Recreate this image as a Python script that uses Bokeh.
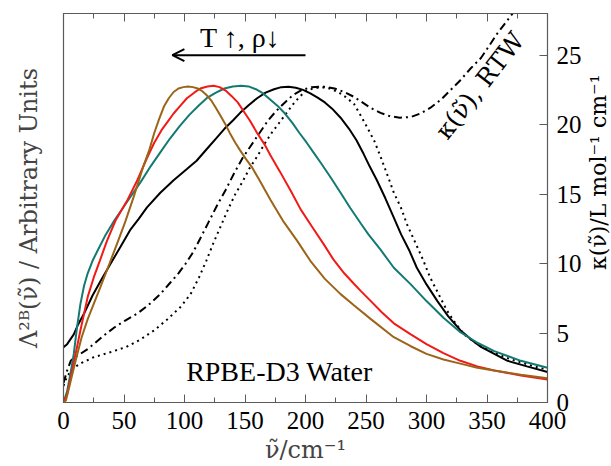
import math
from bokeh.plotting import figure
from bokeh.layouts import row
from bokeh.models import (LinearAxis, FixedTicker, SingleIntervalTicker, Arrow,
                          OpenHead, Range1d)
from bokeh.core.properties import value
from bokeh.embed import file_html
from bokeh.resources import INLINE

# ---------------- data ----------------
brown_x = [0, 2, 5, 10, 15, 20, 25, 30, 38, 45, 51, 58, 66, 71, 75, 79, 83, 87, 91, 95,
           99, 103, 107, 111, 114, 118, 122, 126, 130, 134, 138, 142, 146, 151, 156,
           162, 171, 182, 193, 204, 216, 229, 240, 254, 273, 287, 300, 314, 328, 342,
           356, 378, 400]
brown_y = [0, 0.15, 1.2, 3.0, 4.7, 6.0, 7.1, 8.2, 10.0, 11.6, 13.0, 14.8, 17.0, 18.2,
           19.4, 20.4, 21.3, 21.9, 22.35, 22.6, 22.7, 22.75, 22.7, 22.6, 22.45, 22.15,
           21.75, 21.2, 20.6, 20.0, 19.3, 18.7, 18.15, 17.5, 16.9, 16.0, 14.6, 13.0,
           11.65, 10.2, 8.9, 7.8, 7.0, 6.0, 4.7, 4.05, 3.5, 3.1, 2.8, 2.5, 2.3, 2.0, 1.75]

red_x = [0, 3, 6, 10, 14, 20, 25, 30, 36, 43, 53, 61, 69, 75, 81, 86, 91, 97, 102, 108,
         113, 119, 124, 129, 134, 139, 144, 149, 154, 160, 166, 171, 179, 188, 196, 205,
         215, 223, 232, 240, 246, 254, 263, 273, 287, 300, 314, 328, 342, 356, 378, 400]
red_y = [0, 0.6, 1.8, 3.5, 5.2, 7.6, 9.0, 10.2, 11.65, 13.1, 14.6, 16.0, 17.6, 18.7,
         19.6, 20.2, 20.8, 21.4, 21.9, 22.3, 22.6, 22.75, 22.8, 22.7, 22.45, 22.05,
         21.6, 20.95, 20.3, 19.4, 18.6, 17.8, 16.6, 15.2, 13.9, 12.7, 11.4, 10.3, 9.3,
         8.55, 8.0, 7.3, 6.5, 5.7, 4.9, 4.2, 3.55, 3.0, 2.6, 2.3, 1.95, 1.65]

teal_x = [0, 3, 6, 8.5, 11, 14, 17, 20, 24, 28, 35, 42, 53, 64, 72, 80, 88, 96, 104,
          112, 119, 126, 133, 140, 147, 153, 159, 165, 171, 177, 183, 189, 195, 201,
          207, 213, 220, 229, 237, 246, 252, 262, 273, 287, 300, 314, 328, 342, 356,
          378, 400]
teal_y = [0, 0.8, 2.2, 3.5, 5.3, 7.1, 8.4, 9.3, 10.2, 10.9, 12.1, 13.1, 14.5, 15.9,
          17.0, 18.0, 19.0, 19.9, 20.7, 21.4, 21.95, 22.3, 22.6, 22.75, 22.8, 22.75,
          22.55, 22.25, 21.8, 21.35, 20.8, 20.15, 19.4, 18.7, 17.95, 17.2, 16.3, 15.1,
          14.0, 12.85, 12.1, 11.0, 9.7, 8.5, 7.3, 6.1, 5.06, 4.3, 3.7, 3.0, 2.5]

black_x = [0, 3, 8.5, 12, 17, 24, 31, 39, 47, 55, 62, 69, 80, 91, 102, 110, 119, 126,
           133, 140, 146, 153, 160, 167, 174, 180, 186, 192, 198, 204, 210, 216, 222,
           229, 236, 242, 248, 253, 259, 266, 272, 279, 286, 292, 300, 309, 318, 328,
           336, 345, 356, 367, 383, 400]
black_y = [3.98, 4.2, 4.9, 5.6, 6.4, 7.7, 8.8, 10.0, 11.2, 12.4, 13.2, 14.05, 15.1,
           16.0, 16.8, 17.4, 18.3, 19.0, 19.7, 20.3, 20.85, 21.4, 21.9, 22.3, 22.55,
           22.7, 22.72, 22.65, 22.5, 22.25, 21.95, 21.6, 21.15, 20.5, 19.7, 18.9, 17.9,
           17.0, 16.0, 14.7, 13.5, 12.1, 10.9, 9.7, 8.5, 7.3, 6.2, 5.2, 4.6, 4.0, 3.5,
           3.0, 2.6, 2.2]

dotted_x = [0, 3, 8.5, 15, 25, 38, 52, 63, 75, 86, 97, 105, 112, 118, 124, 130, 136,
            142, 148, 154, 160, 166, 172, 178, 184, 190, 195, 200, 206, 213, 220, 227,
            233, 240, 246, 251, 257, 262, 268, 273, 279, 284, 290, 297, 303, 310, 317,
            324, 331, 342, 355, 370, 385, 400]
dotted_y = [1.2, 1.9, 2.5, 2.85, 3.26, 3.6, 4.0, 4.5, 5.2, 6.0, 6.9, 7.8, 9.0, 10.2,
            11.5, 12.7, 13.9, 15.0, 15.9, 16.9, 17.7, 18.6, 19.4, 20.1, 20.8, 21.5,
            22.0, 22.4, 22.6, 22.7, 22.6, 22.35, 22.0, 21.5, 20.6, 19.8, 18.8, 17.7,
            16.3, 15.1, 14.0, 12.8, 11.65, 10.3, 9.0, 7.8, 6.6, 5.7, 4.9, 4.2, 3.6, 3.1,
            2.7, 2.35]

kappa_x = [0, 3, 6, 10, 14, 20, 25, 33, 42, 51, 61, 70, 80, 88, 95, 101, 107, 113, 120,
           127, 134, 141, 148, 155, 162, 169, 176, 183, 190, 197, 205, 214, 224, 232,
           240, 247, 254, 262, 270, 278, 287, 295, 303, 312, 320, 328, 336, 345, 352,
           358, 365, 372]
kappa_y = [1.4, 2.3, 3.0, 3.3, 3.5, 3.85, 4.2, 4.8, 5.4, 5.9, 6.4, 7.0, 7.8, 8.6, 9.3,
           10.0, 10.8, 11.8, 13.0, 14.2, 15.3, 16.5, 17.6, 18.5, 19.4, 20.3, 21.0, 21.6,
           22.15, 22.5, 22.7, 22.75, 22.6, 22.35, 22.0, 21.6, 21.2, 20.85, 20.6, 20.5,
           20.55, 20.8, 21.2, 21.8, 22.5, 23.2, 24.0, 24.8, 25.7, 26.5, 27.3, 28.1]

y_right_ticks = [0, 5, 10, 15, 20, 25]

x_label = "ν̃/cm⁻¹"
y_left_label = "Λ²ᴮ(ν̃) / Arbitrary Units"
y_right_label = ["κ(ν̃)/L mol⁻¹ cm⁻¹"]

trend_text = ["T ↑, ρ↓"]
trend_text_x = [146]
trend_text_y = [26.25]
arrow_x_from, arrow_x_to, arrow_y = 200, 90, 25.0

kappa_text = ["κ(ν̃), RTW"]
kappa_text_x = [344]
kappa_text_y = [22.8]

system_text = ["RPBE-D3 Water"]
system_text_x = [178.5]
system_text_y = [2.23]

# ---------------- figure ----------------
FONT = "Liberation Serif, DejaVu Serif"
NUFONT = "DejaVu Serif"
SPINE = "#5a5a5a"

p = figure(width=584, height=466, x_range=Range1d(0, 400), y_range=Range1d(0, 28),
           output_backend="svg", toolbar_location=None,
           min_border_left=63, min_border_top=13, min_border_right=37,
           min_border_bottom=64, background_fill_color="white",
           border_fill_color="white")
p.grid.visible = False
p.outline_line_color = SPINE
p.outline_line_width = 1.2

# bottom axis
xa = p.xaxis[0]
xa.ticker = SingleIntervalTicker(interval=50, num_minor_ticks=2)
xa.major_tick_in = 8
xa.major_tick_out = 0
xa.minor_tick_in = 5
xa.minor_tick_out = 0
xa.major_tick_line_color = SPINE
xa.minor_tick_line_color = SPINE
xa.axis_line_color = SPINE
xa.major_label_standoff = 9
xa.major_label_text_font = FONT
xa.major_label_text_font_size = "25px"
xa.major_label_text_color = "black"
xa.axis_label = x_label
xa.axis_label_text_font = NUFONT
xa.axis_label_text_font_style = "normal"
xa.axis_label_text_font_size = "24px"
xa.axis_label_standoff = 4

# left axis (no ticks)
ya = p.yaxis[0]
ya.ticker = FixedTicker(ticks=[])
ya.axis_line_color = SPINE
ya.major_tick_line_color = None
ya.minor_tick_line_color = None
ya.axis_label = y_left_label
ya.axis_label_text_font = NUFONT
ya.axis_label_text_font_style = "normal"
ya.axis_label_text_font_size = "24px"
ya.axis_label_standoff = 21

# top axis (ticks only)
top = LinearAxis(ticker=SingleIntervalTicker(interval=50, num_minor_ticks=2),
                 major_tick_in=8, major_tick_out=0, minor_tick_in=5, minor_tick_out=0,
                 major_tick_line_color=SPINE, minor_tick_line_color=SPINE,
                 axis_line_color=SPINE, major_label_text_font_size="1px",
                 major_label_text_color=None, major_label_standoff=0)
p.add_layout(top, "above")

# right axis (ticks + numbers)
right = LinearAxis(ticker=FixedTicker(ticks=y_right_ticks),
                   major_tick_in=8, major_tick_out=0,
                   minor_tick_line_color=None,
                   major_tick_line_color=SPINE, axis_line_color=SPINE,
                   major_label_standoff=9,
                   major_label_text_font=FONT, major_label_text_font_size="25px",
                   major_label_text_color="black")
p.add_layout(right, "right")

# ---------------- curves ----------------
LW = 2
p.line(kappa_x, kappa_y, line_color="black", line_width=LW, line_dash="8 4 2 4")
p.line(dotted_x, dotted_y, line_color="black", line_width=LW, line_dash="2 4")
p.line(black_x, black_y, line_color="black", line_width=LW)
p.line(teal_x, teal_y, line_color="#127a72", line_width=LW)
p.line(red_x, red_y, line_color="#f21a16", line_width=LW)
p.line(brown_x, brown_y, line_color="#9c6418", line_width=LW)

# ---------------- annotations ----------------
p.text(x=trend_text_x, y=trend_text_y, text=trend_text, text_font=value(FONT),
       text_font_size="28px", text_align="center", text_baseline="middle",
       text_color="black")
p.add_layout(Arrow(end=OpenHead(size=12, line_width=2, line_color="black"),
                   x_start=arrow_x_from, y_start=arrow_y, x_end=arrow_x_to,
                   y_end=arrow_y, line_width=2, line_color="black"))
p.text(x=kappa_text_x, y=kappa_text_y, text=kappa_text, text_font=value(NUFONT),
       text_font_size="25px", text_align="center", text_baseline="middle",
       angle=0.91, text_color="black")
p.text(x=system_text_x, y=system_text_y, text=system_text, text_font=value(FONT),
       text_font_size="28px", text_align="center", text_baseline="middle",
       text_color="black")

# ---------------- right-hand axis title (reads upwards) ----------------
q = figure(width=27, height=466, x_range=Range1d(0, 1), y_range=Range1d(0, 1),
           output_backend="svg", toolbar_location=None,
           x_axis_location=None, y_axis_location=None,
           min_border_left=0, min_border_right=0, min_border_top=0,
           min_border_bottom=0, background_fill_color="white",
           border_fill_color="white")
q.grid.visible = False
q.outline_line_color = None
q.text(x=[0.52], y=[0.592], text=y_right_label, text_font=value(NUFONT),
       text_font_size="22px", text_align="center", text_baseline="middle",
       angle=math.pi / 2, text_color="black")

layout = row(p, q, spacing=0)
open("out.html", "w").write(file_html(layout, INLINE))
